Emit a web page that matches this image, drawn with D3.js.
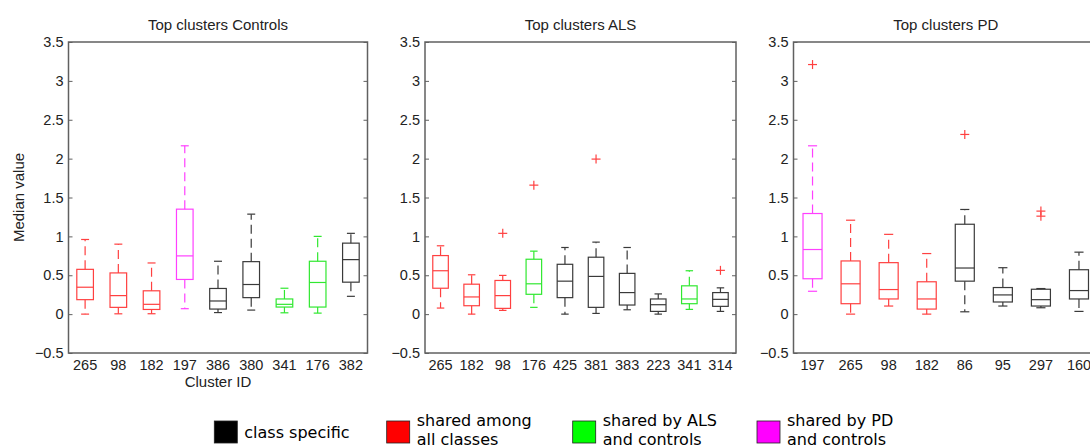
<!DOCTYPE html>
<html>
<head>
<meta charset="utf-8">
<script src="https://cdn.jsdelivr.net/npm/d3@7"></script>
<style>
  body { margin: 0; background: #fff; }
  svg { display: block; }
  .tick text { font-family: "Liberation Sans", Arial, sans-serif; font-size: 14.5px; fill: #222; }
</style>
</head>
<body>
<svg id="chart" width="1090" height="445"></svg>
<script>
// ---------- DATA ----------
const yTicks = [-0.5, 0, 0.5, 1, 1.5, 2, 2.5, 3, 3.5];

// Panel 1: Controls
const ctrlIds   = ["265", "98", "182", "197", "386", "380", "341", "176", "382"];
const ctrlGroup = ["all", "all", "all", "pd", "specific", "specific", "als", "als", "specific"];
const ctrlLow   = [0.00, 0.004, 0.005, 0.07, 0.02, 0.052, 0.017, 0.013, 0.229];
const ctrlQ1    = [0.186, 0.087, 0.06, 0.446, 0.065, 0.212, 0.091, 0.091, 0.411];
const ctrlMed   = [0.346, 0.238, 0.126, 0.749, 0.169, 0.381, 0.126, 0.407, 0.701];
const ctrlQ3    = [0.576, 0.53, 0.30, 1.35, 0.33, 0.675, 0.195, 0.68, 0.913];
const ctrlHigh  = [0.96, 0.90, 0.658, 2.165, 0.68, 1.286, 0.333, 1.00, 1.039];
const ctrlOutId = [];
const ctrlOutVal = [];

// Panel 2: ALS
const alsIds   = ["265", "182", "98", "176", "425", "381", "383", "223", "341", "314"];
const alsGroup = ["all", "all", "all", "als", "specific", "specific", "specific", "specific", "als", "specific"];
const alsLow   = [0.078, 0.00, 0.048, 0.087, 0.00, 0.009, 0.056, 0.00, 0.061, 0.035];
const alsQ1    = [0.333, 0.108, 0.074, 0.255, 0.212, 0.087, 0.117, 0.035, 0.134, 0.10];
const alsMed   = [0.558, 0.221, 0.238, 0.39, 0.424, 0.485, 0.277, 0.121, 0.195, 0.19];
const alsQ3    = [0.753, 0.385, 0.433, 0.706, 0.641, 0.732, 0.524, 0.195, 0.364, 0.277];
const alsHigh  = [0.879, 0.506, 0.498, 0.81, 0.857, 0.926, 0.857, 0.26, 0.558, 0.338];
const alsOutId  = ["98", "176", "381", "314"];
const alsOutVal = [1.039, 1.659, 1.994, 0.563];

// Panel 3: PD
const pdIds   = ["197", "265", "98", "182", "86", "95", "297", "160"];
const pdGroup = ["pd", "all", "all", "all", "specific", "specific", "specific", "specific"];
const pdLow   = [0.294, 0.00, 0.104, 0.00, 0.03, 0.104, 0.082, 0.035];
const pdQ1    = [0.455, 0.134, 0.195, 0.065, 0.424, 0.156, 0.104, 0.195];
const pdMed   = [0.831, 0.39, 0.316, 0.195, 0.593, 0.247, 0.186, 0.303];
const pdQ3    = [1.294, 0.684, 0.662, 0.416, 1.156, 0.342, 0.32, 0.571];
const pdHigh  = [2.165, 1.208, 1.026, 0.779, 1.346, 0.597, 0.329, 0.797];
const pdOutId  = ["197", "86", "297", "297"];
const pdOutVal = [3.21, 2.311, 1.325, 1.26];

// Legend
const legendKeys   = ["specific", "all", "als", "pd"];
const legendLabels = [["class specific"], ["shared among", "all classes"], ["shared by ALS", "and controls"], ["shared by PD", "and controls"]];

// ---------- STYLE ----------
const lineColor = { specific: "#3a3a3a", all: "#ff4040", als: "#30e830", pd: "#ff40ff" };
const fillColor = { specific: "#000000", all: "#ff0000", als: "#00ff00", pd: "#ff00ff" };

const svg = d3.select("#chart");
const plotTop = 42, plotBottom = 353;
const y = d3.scaleLinear().domain([-0.5, 3.5]).range([plotBottom, plotTop]);

const panels = [
  { title: "Top clusters Controls", left: 68.5, right: 367.5, ids: ctrlIds, group: ctrlGroup, low: ctrlLow, q1: ctrlQ1, med: ctrlMed, q3: ctrlQ3, high: ctrlHigh, outId: ctrlOutId, outVal: ctrlOutVal, ylabel: "Median value", xlabel: "Cluster ID" },
  { title: "Top clusters ALS", left: 425, right: 736, ids: alsIds, group: alsGroup, low: alsLow, q1: alsQ1, med: alsMed, q3: alsQ3, high: alsHigh, outId: alsOutId, outVal: alsOutVal },
  { title: "Top clusters PD", left: 793.5, right: 1098, ids: pdIds, group: pdGroup, low: pdLow, q1: pdQ1, med: pdMed, q3: pdQ3, high: pdHigh, outId: pdOutId, outVal: pdOutVal }
];

const fontMain = '"Liberation Sans", Arial, sans-serif';

panels.forEach(p => {
  const x = d3.scaleBand().domain(p.ids).range([p.left, p.right]).paddingInner(0).paddingOuter(0);
  const bw = x.bandwidth();
  const cx = id => x(id) + bw / 2;
  const g = svg.append("g");

  // y axis left
  g.append("g").attr("transform", `translate(${p.left},0)`)
    .call(d3.axisLeft(y).tickValues(yTicks).tickSizeInner(-4).tickSizeOuter(0).tickPadding(5)
      .tickFormat(d => String(d).replace("-", "\u2212")))
    .call(a => a.select(".domain").remove())
    .call(a => a.selectAll(".tick line").attr("stroke", "#606060"));
  // y axis right
  g.append("g").attr("transform", `translate(${p.right},0)`)
    .call(d3.axisRight(y).tickValues(yTicks).tickSizeInner(-4).tickSizeOuter(0).tickFormat(""))
    .call(a => a.select(".domain").remove())
    .call(a => a.selectAll(".tick line").attr("stroke", "#606060"));
  // x axis
  g.append("g").attr("transform", `translate(0,${plotBottom})`)
    .call(d3.axisBottom(x).tickSize(0).tickPadding(7))
    .call(a => a.select(".domain").remove());

  // boxes
  const data = p.ids.map((id, i) => ({ id, grp: p.group[i], low: p.low[i], q1: p.q1[i], med: p.med[i], q3: p.q3[i], high: p.high[i] }));
  const bx = g.append("g").selectAll("g").data(data).join("g")
    .attr("fill", "none")
    .attr("stroke", d => lineColor[d.grp])
    .attr("stroke-width", 1.2);
  const capW = bw * 0.24, boxW = bw * 0.5;
  // whiskers dashed
  bx.append("line").attr("x1", d => cx(d.id)).attr("x2", d => cx(d.id))
    .attr("y1", d => y(d.q3)).attr("y2", d => y(d.high)).attr("stroke-dasharray", "9,5");
  bx.append("line").attr("x1", d => cx(d.id)).attr("x2", d => cx(d.id))
    .attr("y1", d => y(d.q1)).attr("y2", d => y(d.low)).attr("stroke-dasharray", "9,5");
  // caps
  bx.append("line").attr("x1", d => cx(d.id) - capW / 2).attr("x2", d => cx(d.id) + capW / 2)
    .attr("y1", d => y(d.high)).attr("y2", d => y(d.high));
  bx.append("line").attr("x1", d => cx(d.id) - capW / 2).attr("x2", d => cx(d.id) + capW / 2)
    .attr("y1", d => y(d.low)).attr("y2", d => y(d.low));
  // box
  bx.append("rect").attr("x", d => cx(d.id) - boxW / 2).attr("width", boxW)
    .attr("y", d => y(d.q3)).attr("height", d => y(d.q1) - y(d.q3));
  // median
  bx.append("line").attr("x1", d => cx(d.id) - boxW / 2).attr("x2", d => cx(d.id) + boxW / 2)
    .attr("y1", d => y(d.med)).attr("y2", d => y(d.med));

  // outliers
  const outs = p.outId.map((id, i) => ({ id, v: p.outVal[i] }));
  const og = g.append("g").selectAll("g").data(outs).join("g")
    .attr("transform", d => `translate(${cx(d.id)},${y(d.v)})`)
    .attr("stroke", "#ff4040").attr("stroke-width", 1.2);
  og.append("line").attr("x1", -4.5).attr("x2", 4.5);
  og.append("line").attr("y1", -4.5).attr("y2", 4.5);

  // frame
  g.append("rect").attr("x", p.left).attr("y", plotTop).attr("width", p.right - p.left).attr("height", plotBottom - plotTop)
    .attr("fill", "none").attr("stroke", "#606060").attr("stroke-width", 1.5);

  // title
  g.append("text").attr("x", (p.left + p.right) / 2).attr("y", 30).attr("text-anchor", "middle")
    .attr("font-family", fontMain).attr("font-size", 15).attr("fill", "#222").text(p.title);
  if (p.ylabel) {
    g.append("text").attr("transform", `translate(24,${(plotTop + plotBottom) / 2}) rotate(-90)`).attr("text-anchor", "middle")
      .attr("font-family", fontMain).attr("font-size", 15).attr("fill", "#222").text(p.ylabel);
  }
  if (p.xlabel) {
    g.append("text").attr("x", (p.left + p.right) / 2).attr("y", 387).attr("text-anchor", "middle")
      .attr("font-family", fontMain).attr("font-size", 15).attr("fill", "#222").text(p.xlabel);
  }
});

// ---------- LEGEND ----------
const legendX = [214.3, 386.7, 572.7, 757];
const lg = svg.append("g").selectAll("g").data(legendKeys).join("g")
  .attr("transform", (d, i) => `translate(${legendX[i]},0)`);
lg.append("rect").attr("x", 0).attr("y", 421).attr("width", 23).attr("height", 22)
  .attr("fill", d => fillColor[d]).attr("stroke", "#222").attr("stroke-width", 0.8);
lg.each(function (d, i) {
  const lines = legendLabels[i];
  const t = d3.select(this).append("text").attr("font-family", '"DejaVu Sans", Verdana, sans-serif')
    .attr("font-size", 16).attr("fill", "#000");
  if (lines.length === 1) {
    t.append("tspan").attr("x", 30).attr("y", 437.7).text(lines[0]);
  } else {
    lines.forEach((s, k) => t.append("tspan").attr("x", 30).attr("y", 426 + k * 19).text(s));
  }
});
</script>
</body>
</html>
